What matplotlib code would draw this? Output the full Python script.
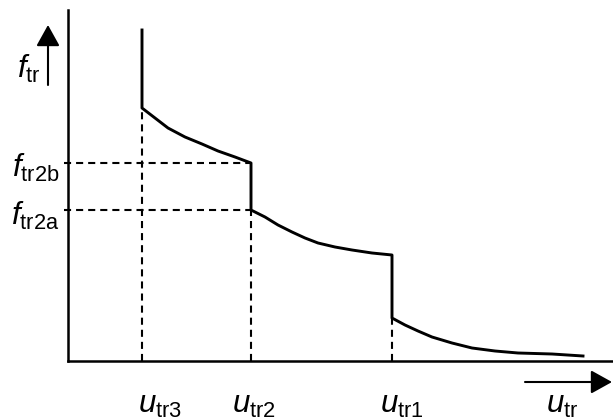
import matplotlib
matplotlib.use("Agg")
import matplotlib.pyplot as plt

# ---- data (diagram units, origin at axes corner) ----
u_curve = [74, 74, 87, 100, 117, 134, 150, 167, 183,
           183, 197, 210, 224, 237, 250, 267, 284, 304, 324,
           324, 337, 350, 364, 384, 404, 427, 450, 484, 515]
f_curve = [331, 253, 243, 233, 224, 217, 210, 204, 198,
           151, 144, 136, 129, 123, 118, 114, 111, 108, 106,
           43, 36, 30, 24, 18, 13, 10, 8, 7, 5]

u_marks = [74, 183, 324]            # u_tr3, u_tr2, u_tr1
f_at_marks = [253, 151, 43]         # curve value where dashed verticals start
f_levels = [198, 151]               # f_tr2b, f_tr2a
f_level_ends = [183, 183]

u_labels = [r'$u_{\mathrm{tr3}}$', r'$u_{\mathrm{tr2}}$', r'$u_{\mathrm{tr1}}$', r'$u_{\mathrm{tr}}$']
f_labels = [r'$f_{\mathrm{tr2b}}$', r'$f_{\mathrm{tr2a}}$']

plt.rcParams['mathtext.fontset'] = 'custom'
plt.rcParams['mathtext.rm'] = 'Liberation Sans'
plt.rcParams['mathtext.it'] = 'Liberation Sans:italic'
plt.rcParams['font.family'] = ['Liberation Sans', 'DejaVu Sans']

W, H = 613, 419
fig = plt.figure(figsize=(W / 100, H / 100), dpi=100)
ax = fig.add_axes([68 / W, 58 / H, 545 / W, 351 / H])
ax.set_xlim(0, 545)
ax.set_ylim(0, 351)
for s in ['top', 'right']:
    ax.spines[s].set_visible(False)
for s in ['left', 'bottom']:
    ax.spines[s].set_linewidth(1.8)
ax.set_xticks([])
ax.set_yticks([])

dash = (0, (3.4, 2.4))
ax.plot(u_curve, f_curve, color='black', lw=2.1, solid_joinstyle='round', clip_on=False)
ax.vlines(u_marks, 0, f_at_marks, colors='black', lw=1.5, linestyles=[dash], clip_on=False)
ax.hlines(f_levels, -4, f_level_ends, colors='black', lw=1.5, linestyles=[dash], clip_on=False)

fs = 22.5
# y labels
fig.text(17, H - 78, r'$f_{\mathrm{tr}}$', fontsize=fs, ha='left', va='baseline',
         transform=None)
fig.text(59, H - 177, f_labels[0], fontsize=fs, ha='right', va='baseline', transform=None)
fig.text(59, H - 225, f_labels[1], fontsize=fs, ha='right', va='baseline', transform=None)

# x labels
for xc, lab in zip([160, 254, 402, 562], u_labels):
    fig.text(xc, 6, lab, fontsize=fs, ha='center', va='baseline', transform=None)

# arrows
ap = dict(arrowstyle='-|>,head_length=0.9,head_width=0.5', mutation_scale=14.4,
          lw=1.5, color='black', shrinkA=0, shrinkB=0)
ax.annotate('', xy=(48, H - 25), xytext=(48, H - 85), xycoords='figure pixels',
            textcoords='figure pixels', arrowprops=ap, annotation_clip=False)
ax.annotate('', xy=(612, H - 382), xytext=(525, H - 382), xycoords='figure pixels',
            textcoords='figure pixels', arrowprops=ap, annotation_clip=False)

fig.savefig('out.png', dpi=100)
